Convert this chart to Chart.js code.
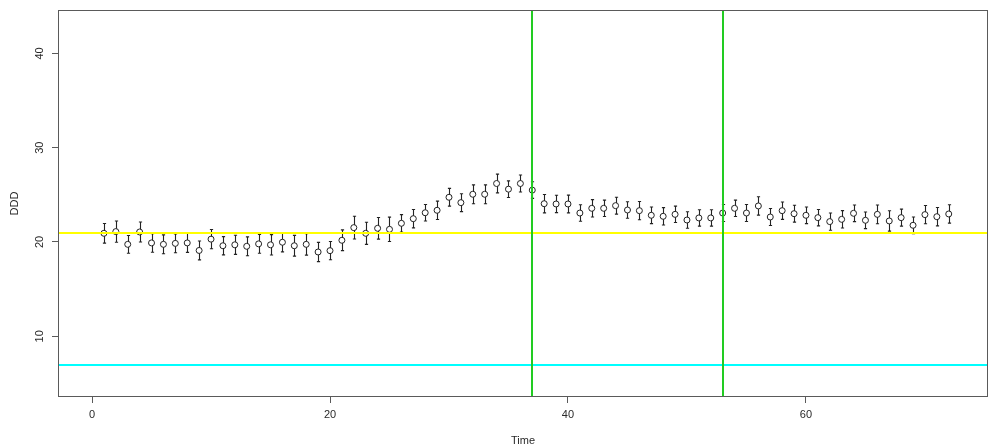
<!DOCTYPE html>
<html>
<head>
<meta charset="utf-8">
<script src="https://cdn.jsdelivr.net/npm/chart.js@4.4.1/dist/chart.umd.min.js"></script>
<style>
  html, body { margin: 0; padding: 0; background: #ffffff; }
  #wrap { width: 989px; height: 448px; position: relative; }
</style>
</head>
<body>
<div id="wrap"><canvas id="c" width="989" height="448"></canvas></div>
<script>
// ---- data ----
const times = [1,2,3,4,5,6,7,8,9,10,11,12,13,14,15,16,17,18,19,20,21,22,23,24,25,26,27,28,29,30,31,32,33,34,35,36,
               37,38,39,40,41,42,43,44,45,46,47,48,49,50,51,52,53,54,55,56,57,58,59,60,61,62,63,64,65,66,67,68,69,70,71,72];
const dddValues = [20.92,21.10,19.75,21.06,19.90,19.75,19.85,19.90,19.10,20.30,19.60,19.70,19.54,19.80,19.70,19.97,19.60,19.75,
                   18.94,19.08,20.18,21.52,20.92,21.45,21.34,21.98,22.47,23.10,23.36,24.74,24.17,25.06,25.06,26.20,25.60,26.20,
                   25.50,24.06,24.03,24.03,23.07,23.57,23.57,23.85,23.39,23.32,22.83,22.72,22.93,22.33,22.55,22.55,23.07,23.57,
                   23.07,23.82,22.65,23.32,23.00,22.83,22.58,22.16,22.40,23.04,22.30,22.93,22.23,22.58,21.77,22.90,22.68,22.97];
const dddErrors = [1.04,1.13,0.94,1.06,0.99,1.00,1.00,1.00,1.00,1.02,0.97,1.02,1.00,1.00,1.08,1.02,1.10,1.14,
                   1.02,0.97,1.10,1.20,1.17,1.15,1.29,0.92,0.97,0.88,0.97,0.94,0.95,1.00,1.00,0.99,0.88,0.90,
                   0.88,0.97,0.92,0.94,0.87,0.92,0.87,0.90,0.88,0.97,0.88,0.92,0.87,0.88,0.87,0.87,0.90,0.87,
                   0.90,0.97,0.90,0.92,0.90,0.88,0.87,0.92,0.92,0.88,0.88,0.99,1.08,0.90,0.88,0.97,0.97,0.97];
const hLineValues = [21, 7];
const hLineColors = ['#FFFF00', '#00FFFF'];
const vLineValues = [37, 53];
const vLineColors = ['#22CC22', '#22CC22'];
const xTickValues = [0, 20, 40, 60];
const yTickValues = [10, 20, 30, 40];
const xRange = [-2.86, 75.3];
const yRange = [3.56, 44.6];

const points = times.map((t, i) => ({ x: t, y: dddValues[i] }));

const FONT = "'Liberation Sans', Arial, sans-serif";
const TEXT = '#2a2a2a';
const AXIS = '#5a5a5a';

const errorBarPlugin = {
  id: 'errorBars',
  beforeDatasetsDraw(chart) {
    const { ctx, scales: { x, y } } = chart;
    ctx.save();
    ctx.strokeStyle = '#222';
    ctx.lineWidth = 1.1;
    times.forEach((t, i) => {
      const px = Math.round(x.getPixelForValue(t)) + 0.5;
      const lo = y.getPixelForValue(dddValues[i] - dddErrors[i]);
      const hi = y.getPixelForValue(dddValues[i] + dddErrors[i]);
      ctx.beginPath();
      ctx.moveTo(px, lo); ctx.lineTo(px, hi);
      ctx.moveTo(px - 1.6, lo); ctx.lineTo(px + 1.6, lo);
      ctx.moveTo(px - 1.6, hi); ctx.lineTo(px + 1.6, hi);
      ctx.stroke();
    });
    ctx.restore();
  }
};

const refLinePlugin = {
  id: 'refLines',
  afterDatasetsDraw(chart) {
    const { ctx, chartArea: a, scales: { x, y } } = chart;
    ctx.save();
    ctx.beginPath();
    ctx.rect(a.left, a.top, a.right - a.left, a.bottom - a.top);
    ctx.clip();
    ctx.lineWidth = 2;
    hLineValues.forEach((v, i) => {
      const py = Math.round(y.getPixelForValue(v));
      ctx.strokeStyle = hLineColors[i];
      ctx.beginPath(); ctx.moveTo(a.left, py); ctx.lineTo(a.right, py); ctx.stroke();
    });
    vLineValues.forEach((v, i) => {
      const px = Math.round(x.getPixelForValue(v));
      ctx.strokeStyle = vLineColors[i];
      ctx.beginPath(); ctx.moveTo(px, a.top); ctx.lineTo(px, a.bottom); ctx.stroke();
    });
    ctx.restore();
  },
  afterDraw(chart) {
    const { ctx, chartArea: a } = chart;
    ctx.save();
    ctx.strokeStyle = AXIS;
    ctx.lineWidth = 1;
    ctx.strokeRect(Math.round(a.left) + 0.5, Math.round(a.top) + 0.5,
                   Math.round(a.right - a.left) - 1, Math.round(a.bottom - a.top) - 1);
    ctx.restore();
  }
};

new Chart(document.getElementById('c'), {
  type: 'scatter',
  data: {
    datasets: [{
      label: 'DDD',
      data: points,
      showLine: false,
      pointStyle: 'circle',
      pointRadius: 3,
      pointBorderWidth: 1,
      pointBorderColor: '#222',
      pointBackgroundColor: '#ffffff',
      pointHoverRadius: 3
    }]
  },
  options: {
    responsive: false,
    animation: false,
    events: [],
    layout: { autoPadding: false, padding: { top: 10, right: 1, left: 0, bottom: 0 } },
    plugins: { legend: { display: false }, tooltip: { enabled: false } },
    scales: {
      x: {
        type: 'linear',
        min: xRange[0], max: xRange[1],
        afterBuildTicks: s => { s.ticks = xTickValues.map(v => ({ value: v })); },
        afterFit: s => { s.height = 51; s.paddingLeft = 0; s.paddingRight = 0; },
        grid: { drawOnChartArea: false, drawTicks: true, tickLength: 6, tickColor: AXIS, tickWidth: 1 },
        border: { display: false },
        ticks: { color: TEXT, font: { family: FONT, size: 11 }, padding: 5, maxRotation: 0, autoSkip: false },
        title: { display: true, text: 'Time', color: TEXT, font: { family: FONT, size: 11 }, padding: { top: 0, bottom: 0 } }
      },
      y: {
        type: 'linear',
        min: yRange[0], max: yRange[1],
        afterBuildTicks: s => { s.ticks = yTickValues.map(v => ({ value: v })); },
        afterFit: s => { s.width = 58; s.paddingTop = 0; s.paddingBottom = 0; },
        grid: { drawOnChartArea: false, drawTicks: true, tickLength: 6, tickColor: AXIS, tickWidth: 1 },
        border: { display: false },
        ticks: { color: TEXT, font: { family: FONT, size: 11 }, padding: 6, minRotation: 90, maxRotation: 90, crossAlign: 'center', autoSkip: false },
        title: { display: true, text: 'DDD', color: TEXT, font: { family: FONT, size: 11 }, padding: { top: 8, bottom: 0 } }
      }
    }
  },
  plugins: [errorBarPlugin, refLinePlugin]
});
</script>
</body>
</html>
